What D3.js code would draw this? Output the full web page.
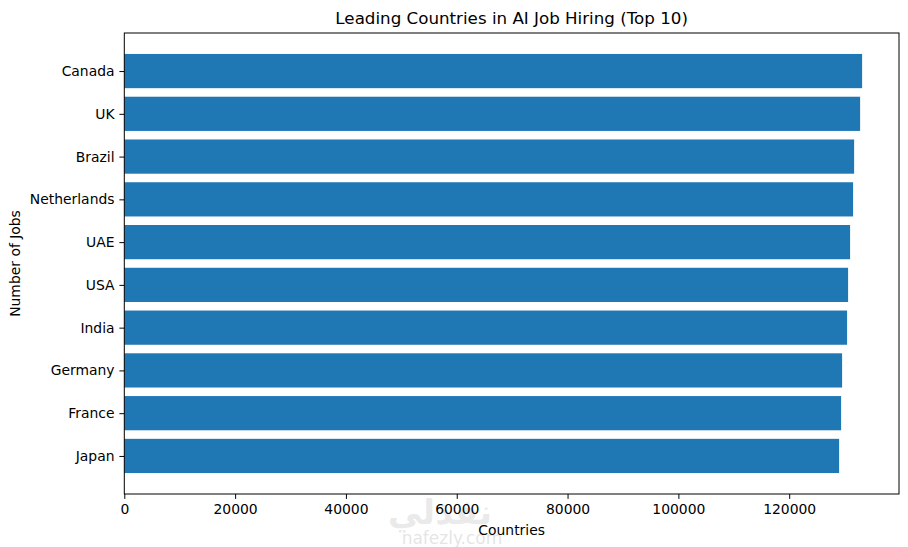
<!DOCTYPE html>
<html>
<head>
<meta charset="utf-8">
<script src="https://cdn.jsdelivr.net/npm/d3@7"></script>
<style>
    body { margin: 0; background: #fff; }
    text { font-family: "DejaVu Sans", sans-serif; fill: #000; }
</style>
</head>
<body>
<svg id="chart" width="908" height="547"></svg>
<script>
// values, top bar first
const countries = ['Canada', 'UK', 'Brazil', 'Netherlands', 'UAE',
                   'USA', 'India', 'Germany', 'France', 'Japan'];
const jobs = [133160, 132800, 131720, 131530, 130990,
              130630, 130450, 129550, 129370, 129010];
const xTicks = [0, 20000, 40000, 60000, 80000, 100000, 120000];

const width = 908;
const height = 547;
const margin = {top: 33, right: 9, bottom: 53, left: 124.3};
const innerW = width - margin.left - margin.right;
const innerH = height - margin.top - margin.bottom;

const svg = d3.select('#chart');
const g = svg.append('g')
    .attr('transform', `translate(${margin.left},${margin.top})`);

// matplotlib style 5% margin on the data range
const xScale = d3.scaleLinear()
    .domain([0, d3.max(jobs) * 1.05])
    .range([0, innerW]);

// bars sit at integer positions with height 0.8, plus 5% padding
const yLin = d3.scaleLinear()
    .domain([-0.4 - 0.49, 9.4 + 0.49])
    .range([0, innerH]);

g.selectAll('rect.bar')
    .data(jobs)
    .enter()
    .append('rect')
    .attr('class', 'bar')
    .attr('x', xScale(0))
    .attr('y', (d, i) => yLin(i - 0.4))
    .attr('width', (d) => xScale(d) - xScale(0))
    .attr('height', yLin(0.4) - yLin(-0.4))
    .attr('fill', '#1f77b4');

const xAxis = g.append('g')
    .attr('transform', `translate(0,${innerH})`)
    .call(d3.axisBottom(xScale).tickValues(xTicks).tickFormat(d3.format('d'))
        .tickSize(4.9).tickPadding(4.9));

const yAxis = g.append('g')
    .call(d3.axisLeft(yLin).tickValues(d3.range(countries.length))
        .tickFormat((i) => countries[i]).tickSize(4.9).tickPadding(4.9));

[xAxis, yAxis].forEach((ax) => {
    ax.select('.domain').remove();
    ax.selectAll('.tick line').attr('stroke', '#000').attr('stroke-width', 1);
    ax.selectAll('.tick text').style('font-size', '13.9px').attr('fill', '#000');
});

// frame
g.append('rect')
    .attr('width', innerW)
    .attr('height', innerH)
    .attr('fill', 'none')
    .attr('stroke', '#000')
    .attr('stroke-width', 1);

svg.append('text')
    .attr('x', margin.left + innerW / 2)
    .attr('y', 24)
    .attr('text-anchor', 'middle')
    .style('font-size', '16.7px')
    .text('Leading Countries in AI Job Hiring (Top 10)');

svg.append('text')
    .attr('x', margin.left + innerW / 2)
    .attr('y', 535)
    .attr('text-anchor', 'middle')
    .style('font-size', '13.9px')
    .text('Countries');

svg.append('text')
    .attr('transform', `translate(20,${margin.top + innerH / 2}) rotate(-90)`)
    .attr('text-anchor', 'middle')
    .style('font-size', '13.9px')
    .text('Number of Jobs');

// faint watermark
svg.append('text')
    .attr('x', 440)
    .attr('y', 524)
    .attr('text-anchor', 'middle')
    .style('font-size', '34px')
    .style('font-weight', 'bold')
    .style('fill', '#000')
    .style('opacity', 0.08)
    .text('نفذلي');

svg.append('text')
    .attr('x', 452)
    .attr('y', 544)
    .attr('text-anchor', 'middle')
    .style('font-size', '17px')
    .style('fill', '#000')
    .style('opacity', 0.1)
    .text('nafezly.com');
</script>
</body>
</html>
